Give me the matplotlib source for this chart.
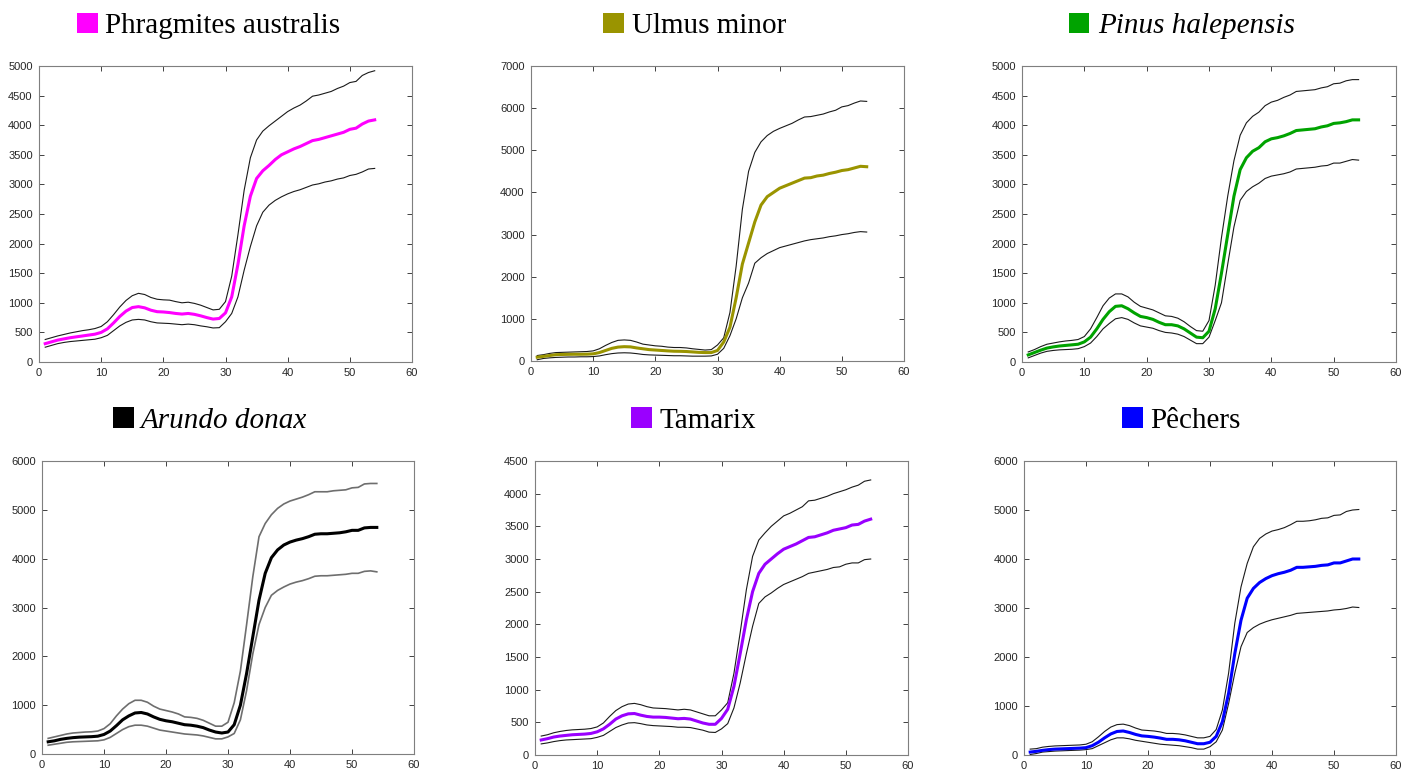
import matplotlib
matplotlib.use("Agg")
import matplotlib.pyplot as plt
from matplotlib.patches import Rectangle
import numpy as np

W, H = 1418, 774

bands = np.arange(1, 55)

# Phragmites australis
phr_up = [380, 410, 440, 465, 490, 510, 530, 545, 565, 600, 680, 800, 930, 1040, 1120, 1160, 1140, 1090,
          1060, 1050, 1045, 1020, 1000, 1010, 990, 960, 920, 880, 890, 1020, 1450, 2150, 2900, 3450, 3750, 3900,
          3990, 4070, 4150, 4230, 4290, 4340, 4410, 4490, 4510, 4540, 4570, 4620, 4660, 4720, 4740, 4840, 4890, 4920]
phr_mean = [310, 340, 370, 390, 410, 425, 440, 455, 470, 500, 560, 660, 770, 860, 920, 935, 915, 875,
            850, 845, 835, 820, 810, 820, 805, 780, 750, 725, 735, 830, 1100, 1650, 2300, 2800, 3100, 3230,
            3320, 3420, 3500, 3550, 3600, 3640, 3690, 3740, 3760, 3790, 3820, 3850, 3880, 3930, 3950, 4020, 4070, 4090]
phr_low = [250, 280, 310, 330, 345, 355, 365, 375, 385, 410, 450, 530, 610, 670, 710, 720, 710, 680,
           660, 655, 650, 640, 630, 640, 630, 610, 595, 575, 580, 680, 820, 1100, 1550, 1950, 2300, 2530,
           2650, 2730, 2790, 2840, 2880, 2910, 2950, 2990, 3010, 3040, 3060, 3090, 3110, 3150, 3170, 3210, 3260, 3270]

# Ulmus minor
ulm_up = [130, 150, 180, 200, 205, 210, 215, 220, 225, 240, 290, 370, 440, 490, 500, 490, 450, 400,
          380, 360, 350, 330, 320, 320, 310, 290, 275, 260, 270, 380, 550, 1150, 2250, 3600, 4500, 4950,
          5200, 5350, 5450, 5520, 5580, 5640, 5720, 5790, 5800, 5830, 5860, 5910, 5950, 6030, 6060, 6120, 6170, 6160]
ulm_mean = [90, 110, 130, 150, 155, 158, 160, 160, 162, 170, 200, 250, 300, 330, 340, 335, 310, 290,
            270, 260, 250, 240, 232, 230, 225, 215, 205, 200, 200, 250, 450, 800, 1500, 2300, 2800, 3300,
            3700, 3900, 4000, 4100, 4160, 4220, 4280, 4340, 4350, 4390, 4410, 4450, 4480, 4520, 4540, 4580, 4620, 4610]
ulm_low = [30, 60, 75, 85, 90, 95, 95, 100, 100, 105, 120, 150, 175, 190, 195, 190, 175, 155,
           145, 140, 135, 130, 125, 125, 120, 115, 115, 115, 120, 160, 300, 600, 1000, 1500, 1850, 2320,
           2450, 2550, 2620, 2690, 2730, 2770, 2810, 2850, 2880, 2900, 2920, 2950, 2970, 3000, 3020, 3050, 3070, 3060]

# Pinus halepensis
pin_up = [170, 210, 260, 300, 320, 340, 355, 365, 380, 430, 560, 750, 950, 1080, 1150, 1150, 1100, 1010,
          940, 910, 880, 830, 780, 770, 740, 680, 600, 530, 520, 700, 1300, 2100, 2800, 3400, 3830, 4040,
          4150, 4220, 4330, 4390, 4420, 4470, 4510, 4570, 4580, 4590, 4600, 4630, 4650, 4700, 4710, 4750, 4770, 4770]
pin_mean = [120, 160, 200, 235, 255, 270, 280, 290, 300, 340, 420, 560, 720, 850, 940, 950, 900, 830,
            770, 750, 720, 670, 630, 630, 610, 560, 490, 420, 410, 520, 900, 1500, 2150, 2800, 3250, 3450,
            3560, 3620, 3720, 3770, 3790, 3820, 3860, 3910, 3920, 3930, 3940, 3970, 3990, 4030, 4040, 4060, 4090, 4090]
pin_low = [70, 110, 150, 180, 195, 205, 210, 215, 225, 260, 320, 430, 560, 650, 730, 750, 720, 660,
           610, 590, 570, 530, 500, 490, 470, 430, 370, 310, 310, 420, 700, 1000, 1650, 2280, 2730, 2880,
           2960, 3020, 3100, 3140, 3160, 3180, 3210, 3260, 3270, 3280, 3290, 3310, 3320, 3360, 3360, 3390, 3420, 3410]

# Arundo donax
aru_up = [320, 350, 380, 410, 430, 440, 450, 455, 470, 520, 620, 780, 920, 1030, 1100, 1100, 1060, 980,
          920, 890, 860, 820, 760, 750, 730, 690, 630, 570, 570, 650, 1050, 1700, 2650, 3630, 4450, 4720,
          4900, 5030, 5120, 5180, 5220, 5260, 5310, 5370, 5370, 5370, 5390, 5400, 5410, 5450, 5460, 5530, 5540, 5540]
aru_mean = [250, 270, 300, 320, 335, 345, 350, 355, 365, 400, 470, 580, 700, 780, 840, 850, 820, 760,
            710, 680, 660, 630, 600, 590, 570, 540, 490, 450, 430, 450, 600, 1000, 1650, 2400, 3150, 3700,
            4020, 4180, 4280, 4340, 4380, 4410, 4450, 4500, 4510, 4510, 4520, 4530, 4550, 4580, 4580, 4630, 4640, 4640]
aru_low = [180, 200, 220, 240, 250, 255, 260, 265, 270, 290, 340, 420, 500, 560, 590, 590, 570, 530,
           490, 470, 450, 430, 410, 400, 390, 370, 340, 310, 310, 350, 420, 700, 1300, 2050, 2650, 3000,
           3250, 3350, 3420, 3480, 3520, 3550, 3590, 3640, 3650, 3650, 3660, 3670, 3680, 3700, 3700, 3740, 3750, 3730]

# Tamarix
tam_up = [290, 310, 340, 360, 375, 385, 390, 395, 405, 430, 490, 590, 680, 740, 780, 790, 770, 740,
          720, 715, 710, 700, 690, 700, 690, 660, 630, 600, 600, 690, 800, 1250, 1870, 2530, 3040, 3290,
          3400, 3500, 3580, 3660, 3700, 3750, 3800, 3890, 3900, 3930, 3960, 4000, 4030, 4060, 4100, 4130, 4190, 4210]
tam_mean = [230, 250, 275, 290, 300, 310, 315, 320, 330, 355, 400, 470, 550, 600, 630, 635, 610, 590,
            580, 580, 575, 565, 555, 560, 550, 520, 490, 470, 470, 560, 700, 1050, 1550, 2070, 2500, 2780,
            2920, 3000, 3080, 3150, 3190, 3230, 3280, 3330, 3340, 3370, 3400, 3440, 3460, 3480, 3520, 3530, 3580, 3610]
tam_low = [170, 185, 205, 220, 230, 235, 240, 245, 250, 270, 300, 360, 420, 460, 490, 495, 480, 460,
           450, 445, 440, 435, 425, 425, 420, 400, 380, 350, 345, 400, 480, 720, 1100, 1550, 1970, 2320,
           2420, 2480, 2550, 2610, 2650, 2690, 2730, 2780, 2800, 2820, 2840, 2870, 2880, 2920, 2940, 2940, 2990, 3000]

# Pêchers
pec_up = [120, 130, 160, 175, 185, 190, 195, 200, 205, 220, 270, 370, 480, 570, 620, 630, 600, 550,
          510, 500, 490, 470, 440, 440, 430, 410, 380, 350, 350, 380, 520, 920, 1670, 2690, 3430, 3910,
          4250, 4420, 4510, 4570, 4600, 4640, 4700, 4770, 4770, 4780, 4800, 4830, 4840, 4890, 4900, 4970, 5000, 5010]
pec_mean = [60, 75, 95, 110, 120, 125, 130, 135, 140, 150, 190, 260, 350, 430, 480, 490, 460, 420,
            390, 380, 365, 345, 320, 320, 310, 290, 260, 230, 230, 260, 380, 680, 1260, 2070, 2750, 3200,
            3400, 3520, 3600, 3660, 3700, 3730, 3770, 3830, 3830, 3840, 3850, 3870, 3880, 3920, 3920, 3960, 4000, 4000]
pec_low = [10, 30, 60, 70, 80, 85, 90, 95, 100, 110, 130, 190, 250, 310, 350, 350, 330, 300,
           280, 260, 240, 220, 210, 200, 190, 170, 150, 120, 120, 170, 270, 510, 1050, 1670, 2210, 2500,
           2600, 2670, 2720, 2760, 2790, 2820, 2850, 2890, 2900, 2910, 2920, 2930, 2940, 2960, 2970, 2990, 3020, 3010]

names = ["Phragmites australis", "Ulmus minor", "Pinus halepensis", "Arundo donax", "Tamarix", "Pêchers"]
italic = [False, False, True, True, False, False]
colors = ["#ff00ff", "#9a9400", "#00a300", "#000000", "#9a00ff", "#0000ff"]
ymax = [5000, 7000, 5000, 6000, 4500, 6000]
ystep = [500, 1000, 500, 1000, 500, 1000]
series = [(phr_up, phr_mean, phr_low), (ulm_up, ulm_mean, ulm_low), (pin_up, pin_mean, pin_low),
          (aru_up, aru_mean, aru_low), (tam_up, tam_mean, tam_low), (pec_up, pec_mean, pec_low)]

# axes boxes in pixels: left, top, right, bottom
boxes = [(39, 66, 412, 362), (531, 66, 904, 361), (1022, 66, 1396, 362),
         (42, 461, 414, 754), (535, 461, 908, 755), (1024, 461, 1396, 755)]
# title square left, square top, text x
titles = [(77, 12.5, 105), (603, 12.5, 632), (1068.5, 12.5, 1098),
          (113, 407.5, 141), (631, 407.5, 660), (1122, 407.5, 1150)]

plt.rcParams['font.family'] = ['Liberation Sans', 'DejaVu Sans']

fig = plt.figure(figsize=(W / 100, H / 100), dpi=100)

for i in range(6):
    l, t, r, b = boxes[i]
    ax = fig.add_axes([l / W, 1 - b / H, (r - l) / W, (b - t) / H])
    up, mean, low = series[i]
    env = "#6e6e6e" if i == 3 else "#1a1a1a"
    ew = 1.2 if i == 3 else 0.8
    ax.plot(bands, up, color=env, lw=ew)
    ax.plot(bands, low, color=env, lw=ew)
    ax.plot(bands, mean, color=colors[i], lw=2.2)
    ax.set_xlim(0, 60)
    ax.set_ylim(0, ymax[i])
    ax.set_xticks(range(0, 61, 10))
    ax.set_yticks(range(0, ymax[i] + 1, ystep[i]))
    ax.tick_params(direction='in', top=True, right=True, length=3.5, width=0.7,
                   labelsize=8, labelcolor='#262626', color='#404040')
    ax.tick_params(axis='y', pad=4.5)
    ax.tick_params(axis='x', pad=4)
    for s in ax.spines.values():
        s.set_color('#7f7f7f')
        s.set_linewidth(0.8)

    sx, sy, tx = titles[i]
    fig.add_artist(Rectangle((sx / W, 1 - (sy + 20.5) / H), 20.5 / W, 20.5 / H,
                             transform=fig.transFigure, facecolor=colors[i], edgecolor='none'))
    fig.text(tx / W, 1 - (sy + 20.5) / H, names[i], fontsize=21, family='Liberation Serif',
             style='italic' if italic[i] else 'normal', va='baseline', ha='left', color='black')

fig.savefig("out.png", dpi=100)
